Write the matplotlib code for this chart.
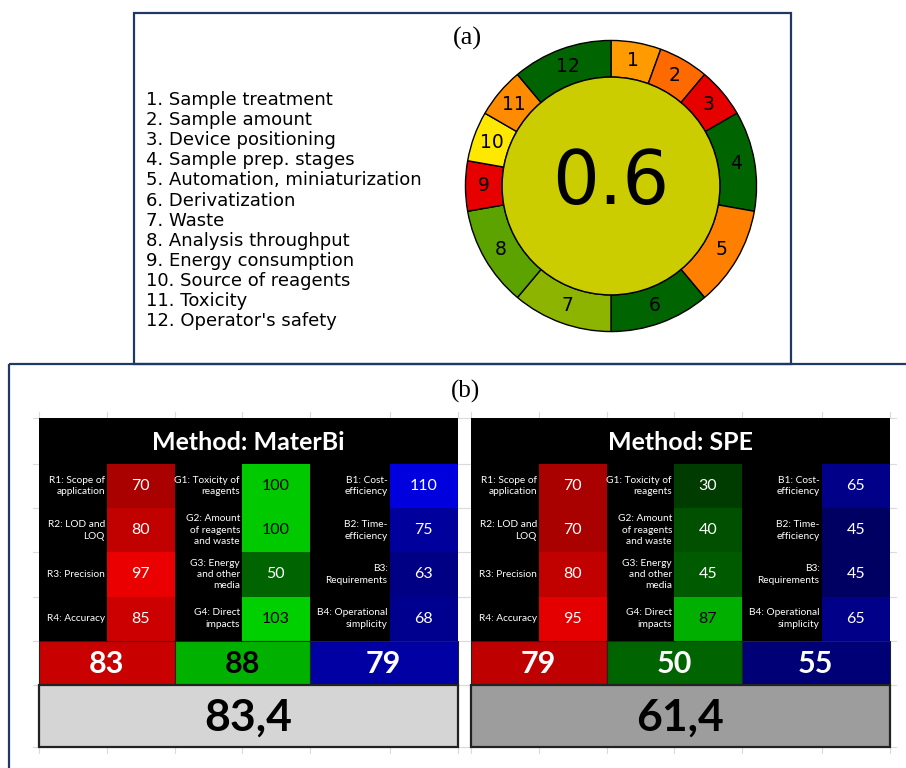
import matplotlib
matplotlib.use("Agg")
import matplotlib.pyplot as plt
from matplotlib.patches import Rectangle, Circle
from matplotlib.colors import LinearSegmentedColormap, Normalize
import numpy as np

# ---------------- (a) AGREEprep pictogram ----------------
criteria = [
    "Sample treatment", "Sample amount", "Device positioning",
    "Sample prep. stages", "Automation, miniaturization", "Derivatization",
    "Waste", "Analysis throughput", "Energy consumption",
    "Source of reagents", "Toxicity", "Operator's safety",
]
weights = [1, 1, 1, 2, 2, 2, 2, 2, 1, 1, 1, 2]
segment_colors = [
    "#FF9A00", "#FF6A00", "#E60000", "#006400", "#FF7F00", "#006400",
    "#8CB400", "#5CA300", "#E60000", "#FFE800", "#FF8C00", "#006400",
]
overall_score = 0.6
overall_color = "#CBCD00"

# ---------------- (b) RGB 12 tables ----------------
red_labels = ["R1: Scope of\napplication", "R2: LOD and\nLOQ",
              "R3: Precision", "R4: Accuracy"]
green_labels = ["G1: Toxicity of\nreagents", "G2: Amount\nof reagents\nand waste",
                "G3: Energy\nand other\nmedia", "G4: Direct\nimpacts"]
blue_labels = ["B1: Cost-\nefficiency", "B2: Time-\nefficiency",
               "B3:\nRequirements", "B4: Operational\nsimplicity"]

methods = ["MaterBi", "SPE"]
red_values = {"MaterBi": [70, 80, 97, 85], "SPE": [70, 70, 80, 95]}
green_values = {"MaterBi": [100, 100, 50, 103], "SPE": [30, 40, 45, 87]}
blue_values = {"MaterBi": [110, 75, 63, 68], "SPE": [65, 45, 45, 65]}
group_scores = {"MaterBi": [83, 88, 79], "SPE": [79, 50, 55]}
whiteness = {"MaterBi": 83.4, "SPE": 61.4}

cmaps = [
    (LinearSegmentedColormap.from_list("r", ["#000000", "#FF0000"]), Normalize(0, 106)),
    (LinearSegmentedColormap.from_list("g", ["#000000", "#00FF00"]), Normalize(0, 127)),
    (LinearSegmentedColormap.from_list("b", ["#000000", "#0000FF"]), Normalize(-8, 128)),
]
gray_cmap = (LinearSegmentedColormap.from_list("w", ["#000000", "#FFFFFF"]), Normalize(0, 100))

FIG_W, FIG_H = 906, 768
fig = plt.figure(figsize=(FIG_W / 100, FIG_H / 100), dpi=100)
fig.patch.set_facecolor("white")

bg = fig.add_axes([0, 0, 1, 1])
bg.set_xlim(0, FIG_W)
bg.set_ylim(FIG_H, 0)
bg.axis("off")

navy = "#1F3864"
# panel frames
bg.add_patch(Rectangle((134, 12.5), 657, 351.5, fill=False, ec=navy, lw=1.6, zorder=1))
bg.add_patch(Rectangle((9, 364), 940, 440, fill=False, ec=navy, lw=1.6, zorder=1))

bg.text(467, 38, "(a)", family="Liberation Serif", fontsize=19, ha="center", va="center")
bg.text(465, 391, "(b)", family="Liberation Serif", fontsize=18, ha="center", va="center")

# criteria list
for i, name in enumerate(criteria):
    bg.text(146, 100 + i * 20.1, f"{i + 1}. {name}", fontsize=13,
            family="DejaVu Sans", ha="left", va="center")

# donut
cx, cy, r_out, r_in = 611, 186, 147, 110
dax = fig.add_axes([(cx - r_out) / FIG_W, 1 - (cy + r_out) / FIG_H,
                    2 * r_out / FIG_W, 2 * r_out / FIG_H])
wedges, _ = dax.pie(weights, colors=segment_colors, startangle=90, counterclock=False,
                    radius=1.0, wedgeprops=dict(width=1 - r_in / r_out, ec="black", lw=1.0))
dax.add_patch(Circle((0, 0), r_in / r_out, fc=overall_color, ec="black", lw=1.0))
r_mid = (1 + r_in / r_out) / 2
for i, w in enumerate(wedges):
    ang = np.deg2rad((w.theta1 + w.theta2) / 2)
    dax.text(r_mid * np.cos(ang), r_mid * np.sin(ang), str(i + 1), fontsize=13.5,
             ha="center", va="center", family="DejaVu Sans")
dax.text(0, 0.02, f"{overall_score:g}", fontsize=53, ha="center", va="center",
         family="DejaVu Sans")
dax.set_xlim(-1.01, 1.01)
dax.set_ylim(-1.01, 1.01)
dax.set_aspect("equal")
dax.axis("off")

# tables
col_w = [68, 67.5, 67.5, 67.5, 80, 68.5]
header_h, row_h, score_h, total_h = 46, 44.2, 44, 62
top = 418
table_x = {"MaterBi": 39, "SPE": 471}
label_sets = [red_labels, green_labels, blue_labels]
font = "Lato"
grid_c = "#DADADA"


def text_color(rgba):
    lum = 0.299 * rgba[0] + 0.587 * rgba[1] + 0.114 * rgba[2]
    return "black" if lum > 0.4 else "white"


for m in methods:
    x0 = table_x[m]
    edges = [x0]
    for w in col_w:
        edges.append(edges[-1] + w)
    width = edges[-1] - x0
    rows_top = top + header_h
    score_top = rows_top + 4 * row_h
    total_top = score_top + score_h
    bottom = total_top + total_h

    # faint sheet grid around the table
    ys = [top] + [rows_top + k * row_h for k in range(5)] + [total_top, bottom]
    for y in ys:
        bg.plot([x0 - 6, x0], [y, y], color=grid_c, lw=0.8, zorder=1)
        bg.plot([edges[-1], edges[-1] + 6], [y, y], color=grid_c, lw=0.8, zorder=1)
    for x in edges:
        bg.plot([x, x], [top - 6, top], color=grid_c, lw=0.8, zorder=1)
        bg.plot([x, x], [bottom, bottom + 6], color=grid_c, lw=0.8, zorder=1)

    # black background (header + label cells)
    bg.add_patch(Rectangle((x0, top), width, score_top - top, fc="black", ec="none", zorder=2))
    bg.text(x0 + width / 2, top + header_h / 2 + 1, f"Method: {m}", color="white",
            fontsize=18, fontweight="bold", family=font, ha="center", va="center", zorder=5)

    values = [red_values[m], green_values[m], blue_values[m]]
    for g in range(3):
        cmap, norm = cmaps[g]
        lx0, lx1, vx1 = edges[2 * g], edges[2 * g + 1], edges[2 * g + 2]
        for k in range(4):
            y = rows_top + k * row_h
            v = values[g][k]
            c = cmap(norm(v))
            bg.add_patch(Rectangle((lx1, y), vx1 - lx1, row_h, fc=c, ec="none", zorder=3))
            bg.text((lx1 + vx1) / 2, y + row_h / 2, str(v), color=text_color(c),
                    fontsize=11.5, family=font, ha="center", va="center", zorder=5)
            bg.text(lx1 - 2, y + row_h / 2, label_sets[g][k], color="white",
                    fontsize=7.3, family=font, ha="right", va="center",
                    multialignment="right", linespacing=1.35, zorder=5)
        s = group_scores[m][g]
        c = cmap(norm(s))
        bg.add_patch(Rectangle((lx0, score_top), vx1 - lx0, score_h, fc=c,
                               ec="#222222", lw=0.8, zorder=3))
        bg.text((lx0 + vx1) / 2, score_top + score_h / 2 + 1, str(s), color=text_color(c),
                fontsize=22, fontweight="bold", family=font, ha="center", va="center", zorder=5)

    gcmap, gnorm = gray_cmap
    wv = whiteness[m]
    c = gcmap(gnorm(wv))
    bg.add_patch(Rectangle((x0, total_top), width, total_h, fc=c, ec="#222222",
                           lw=1.6, zorder=4))
    bg.text(x0 + width / 2, total_top + total_h / 2 + 2, f"{wv:.1f}".replace(".", ","),
            color="black", fontsize=32, fontweight="bold", family=font,
            ha="center", va="center", zorder=5)

fig.savefig("out.png", dpi=100, facecolor="white")
